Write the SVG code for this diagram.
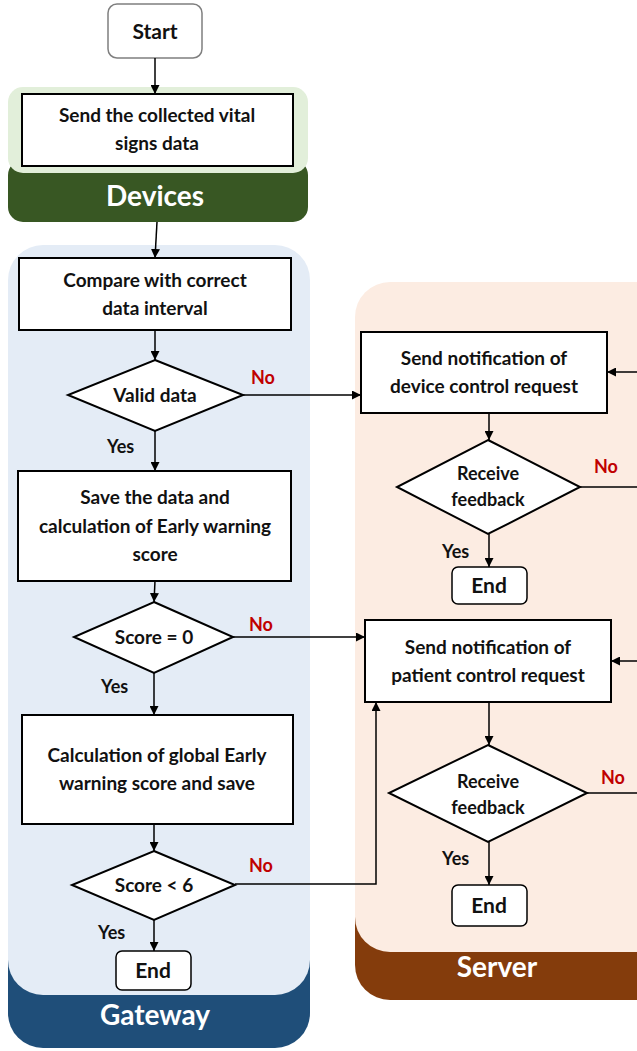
<svg xmlns="http://www.w3.org/2000/svg" width="637" height="1051" viewBox="0 0 637 1051">
<defs>
<marker id="ah" viewBox="0 0 10 10" refX="10" refY="5" markerWidth="9" markerHeight="9" markerUnits="userSpaceOnUse" orient="auto"><path d="M0,0 L10,5 L0,10 z" fill="#000"/></marker>
<style>
.box{fill:#fff;stroke:#000;stroke-width:2}
.t{font-family:Lato,"Liberation Sans",sans-serif;font-weight:bold;font-size:19px;fill:#111;text-anchor:middle}
.lab{font-family:Lato,"Liberation Sans",sans-serif;font-weight:bold;font-size:28px;fill:#fff;text-anchor:middle}
.no{font-family:Lato,"Liberation Sans",sans-serif;font-weight:bold;font-size:18px;fill:#c00000}
.yes{font-family:Lato,"Liberation Sans",sans-serif;font-weight:bold;font-size:18px;fill:#111}
.c{fill:none;stroke:#000;stroke-width:1.5;marker-end:url(#ah)}
.cn{fill:none;stroke:#000;stroke-width:1.5}
</style>
</defs>
<rect width="637" height="1051" fill="#fff"/>
<g id="devices">
<rect x="8" y="160" width="300" height="62" rx="15" fill="#385723"/>
<rect x="8" y="87" width="300" height="86" rx="15" fill="#e2efda"/>
<text class="lab" x="155" y="206">Devices</text>
</g>
<g id="gateway">
<rect x="8" y="900" width="302" height="148" rx="35" fill="#1f4e79"/>
<rect x="8" y="245" width="302" height="750" rx="35" fill="#e4ecf6"/>
<text class="lab" x="155" y="1025">Gateway</text>
</g>
<g id="server">
<rect x="355" y="880" width="320" height="120" rx="35" fill="#843c0c"/>
<rect x="355" y="282" width="320" height="670" rx="35" fill="#fcece2"/>
<text class="lab" x="497" y="977">Server</text>
</g>
<g id="start">
<rect x="108" y="4" width="94" height="54" rx="9" fill="#fff" stroke="#7f7f7f" stroke-width="1.5"/>
<text class="t" x="155" y="39" style="font-size:21px">Start</text>
</g>
<g id="send">
<rect class="box" x="22" y="94" width="271" height="72"/>
<text class="t" x="157" y="122">Send the collected vital</text>
<text class="t" x="157" y="150">signs data</text>
</g>
<g id="compare">
<rect class="box" x="19" y="258" width="272" height="72"/>
<text class="t" x="155" y="287">Compare with correct</text>
<text class="t" x="155" y="315">data interval</text>
</g>
<g id="valid">
<polygon class="box" points="155,360 243,395 155,431 68,395"/>
<text class="t" x="155" y="402">Valid data</text>
</g>
<g id="save">
<rect class="box" x="18" y="471" width="273" height="110"/>
<text class="t" x="155" y="504">Save the data and</text>
<text class="t" x="155" y="533">calculation of Early warning</text>
<text class="t" x="155" y="561">score</text>
</g>
<g id="score0">
<polygon class="box" points="154,602 233,637 154,673 74,637"/>
<text class="t" x="154" y="644">Score = 0</text>
</g>
<g id="global">
<rect class="box" x="22" y="715" width="271" height="109"/>
<text class="t" x="157" y="762">Calculation of global Early</text>
<text class="t" x="157" y="790">warning score and save</text>
</g>
<g id="score6">
<polygon class="box" points="154,851 235,885 154,920 72,885"/>
<text class="t" x="154" y="892">Score &lt; 6</text>
</g>
<g id="end1">
<rect x="116" y="951" width="75" height="39" rx="6" fill="#fff" stroke="#000" stroke-width="1.5"/>
<text class="t" x="153" y="978" style="font-size:21px">End</text>
</g>
<g id="device-req">
<rect class="box" x="361" y="332" width="246" height="81"/>
<text class="t" x="484" y="365">Send notification of</text>
<text class="t" x="484" y="393">device control request</text>
</g>
<g id="fb1">
<polygon class="box" points="488,440 580,487 488,534 397,487"/>
<text class="t" x="488" y="480" style="font-size:18px">Receive</text>
<text class="t" x="488" y="506" style="font-size:18px">feedback</text>
</g>
<g id="end2">
<rect x="452" y="567" width="75" height="37" rx="6" fill="#fff" stroke="#000" stroke-width="1.5"/>
<text class="t" x="489" y="593" style="font-size:21px">End</text>
</g>
<g id="patient-req">
<rect class="box" x="365" y="620" width="246" height="82"/>
<text class="t" x="488" y="654">Send notification of</text>
<text class="t" x="488" y="682">patient control request</text>
</g>
<g id="fb2">
<polygon class="box" points="488,745 587,793 488,842 389,793"/>
<text class="t" x="488" y="788" style="font-size:18px">Receive</text>
<text class="t" x="488" y="814" style="font-size:18px">feedback</text>
</g>
<g id="end3">
<rect x="452" y="885" width="75" height="41" rx="6" fill="#fff" stroke="#000" stroke-width="1.5"/>
<text class="t" x="489" y="913" style="font-size:21px">End</text>
</g>
<g id="connectors">
<line class="c" x1="155" y1="58" x2="155" y2="94"/>
<line class="c" x1="157" y1="222" x2="155" y2="258"/>
<line class="c" x1="155" y1="330" x2="155" y2="360"/>
<line class="c" x1="155" y1="431" x2="155" y2="471"/>
<line class="c" x1="155" y1="581" x2="154" y2="602"/>
<line class="c" x1="154" y1="673" x2="154" y2="715"/>
<line class="c" x1="154" y1="824" x2="154" y2="851"/>
<line class="c" x1="154" y1="920" x2="154" y2="951"/>
<line class="c" x1="243" y1="395" x2="361" y2="395"/>
<line class="c" x1="233" y1="637" x2="365" y2="637"/>
<polyline class="c" points="235,884 376,884 376,702"/>
<line class="c" x1="489" y1="413" x2="489" y2="440"/>
<line class="c" x1="489" y1="534" x2="489" y2="567"/>
<line class="cn" x1="580" y1="487" x2="640" y2="487"/>
<line class="c" x1="640" y1="372" x2="607" y2="372"/>
<line class="c" x1="489" y1="702" x2="489" y2="745"/>
<line class="c" x1="489" y1="842" x2="489" y2="885"/>
<line class="cn" x1="587" y1="793" x2="640" y2="793"/>
<line class="c" x1="640" y1="661" x2="611" y2="661"/>
<text class="no" x="251" y="384">No</text>
<text class="no" x="249" y="631">No</text>
<text class="no" x="249" y="872">No</text>
<text class="no" x="594" y="473">No</text>
<text class="no" x="601" y="784">No</text>
<text class="yes" x="107" y="453">Yes</text>
<text class="yes" x="101" y="693">Yes</text>
<text class="yes" x="98" y="939">Yes</text>
<text class="yes" x="442" y="558">Yes</text>
<text class="yes" x="442" y="865">Yes</text>
</g>
</svg>
